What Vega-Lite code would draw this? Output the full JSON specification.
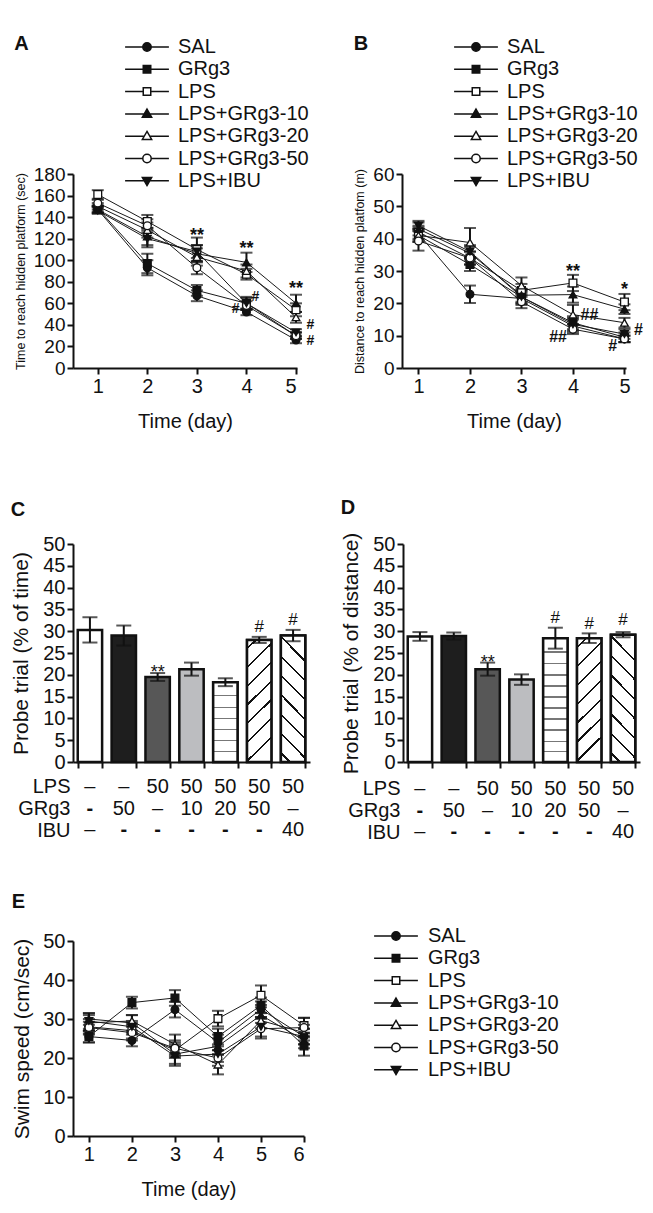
{
"$schema": "https://vega.github.io/schema/vega-lite/v6.json",
"background": "white",
"padding": {"left": 10, "top": 34, "right": 5, "bottom": 5},
"config": {
  "font": "Liberation Sans",
  "view": {"stroke": null},
  "axis": {"domainColor": "#111", "domainWidth": 2, "tickColor": "#111", "tickWidth": 2, "tickSize": 6, "labelColor": "#111", "labelFontSize": 20, "labelPadding": 2, "titleColor": "#111", "titleFontWeight": "normal", "titleFontSize": 20, "grid": false},
  "title": {"fontSize": 20, "fontWeight": "bold", "anchor": "start", "color": "#111", "frame": "bounds"},
  "legend": {"labelColor": "#111"}
},
"datasets": {
  "a": [
    {"day":1,"series":"SAL","v":147,"e":3},{"day":2,"series":"SAL","v":93,"e":7},{"day":3,"series":"SAL","v":67,"e":5},{"day":4,"series":"SAL","v":52,"e":3},{"day":5,"series":"SAL","v":26,"e":3},
    {"day":1,"series":"GRg3","v":148,"e":3},{"day":2,"series":"GRg3","v":97,"e":9},{"day":3,"series":"GRg3","v":72,"e":5},{"day":4,"series":"GRg3","v":60,"e":5},{"day":5,"series":"GRg3","v":30,"e":3},
    {"day":1,"series":"LPS","v":161,"e":4},{"day":2,"series":"LPS","v":136,"e":6},{"day":3,"series":"LPS","v":110,"e":11},{"day":4,"series":"LPS","v":87,"e":5},{"day":5,"series":"LPS","v":54,"e":6},
    {"day":1,"series":"LPS+GRg3-10","v":147,"e":3},{"day":2,"series":"LPS+GRg3-10","v":122,"e":8},{"day":3,"series":"LPS+GRg3-10","v":106,"e":8},{"day":4,"series":"LPS+GRg3-10","v":98,"e":9},{"day":5,"series":"LPS+GRg3-10","v":60,"e":8},
    {"day":1,"series":"LPS+GRg3-20","v":150,"e":3},{"day":2,"series":"LPS+GRg3-20","v":128,"e":7},{"day":3,"series":"LPS+GRg3-20","v":103,"e":8},{"day":4,"series":"LPS+GRg3-20","v":90,"e":6},{"day":5,"series":"LPS+GRg3-20","v":47,"e":5},
    {"day":1,"series":"LPS+GRg3-50","v":153,"e":3},{"day":2,"series":"LPS+GRg3-50","v":132,"e":6},{"day":3,"series":"LPS+GRg3-50","v":93,"e":6},{"day":4,"series":"LPS+GRg3-50","v":58,"e":4},{"day":5,"series":"LPS+GRg3-50","v":30,"e":3},
    {"day":1,"series":"LPS+IBU","v":146,"e":3},{"day":2,"series":"LPS+IBU","v":120,"e":8},{"day":3,"series":"LPS+IBU","v":108,"e":6},{"day":4,"series":"LPS+IBU","v":60,"e":6},{"day":5,"series":"LPS+IBU","v":33,"e":3}
  ],
  "b": [
    {"day":1,"series":"SAL","v":41.5,"e":2},{"day":2,"series":"SAL","v":22.8,"e":2.7},{"day":3,"series":"SAL","v":21.5,"e":2},{"day":4,"series":"SAL","v":13,"e":2},{"day":5,"series":"SAL","v":9,"e":1},
    {"day":1,"series":"GRg3","v":41,"e":2},{"day":2,"series":"GRg3","v":32,"e":2},{"day":3,"series":"GRg3","v":22,"e":2},{"day":4,"series":"GRg3","v":14,"e":2},{"day":5,"series":"GRg3","v":9.5,"e":1.5},
    {"day":1,"series":"LPS","v":42,"e":2},{"day":2,"series":"LPS","v":34,"e":2},{"day":3,"series":"LPS","v":24,"e":2},{"day":4,"series":"LPS","v":26.3,"e":2.5},{"day":5,"series":"LPS","v":20.4,"e":2.5},
    {"day":1,"series":"LPS+GRg3-10","v":43,"e":2},{"day":2,"series":"LPS+GRg3-10","v":35.5,"e":2},{"day":3,"series":"LPS+GRg3-10","v":22.5,"e":2},{"day":4,"series":"LPS+GRg3-10","v":22.7,"e":2.5},{"day":5,"series":"LPS+GRg3-10","v":18.2,"e":1.5},
    {"day":1,"series":"LPS+GRg3-20","v":41,"e":2},{"day":2,"series":"LPS+GRg3-20","v":38.8,"e":4.5},{"day":3,"series":"LPS+GRg3-20","v":25.5,"e":2.5},{"day":4,"series":"LPS+GRg3-20","v":16.5,"e":3},{"day":5,"series":"LPS+GRg3-20","v":14,"e":1.5},
    {"day":1,"series":"LPS+GRg3-50","v":39.3,"e":3},{"day":2,"series":"LPS+GRg3-50","v":34,"e":2},{"day":3,"series":"LPS+GRg3-50","v":20.5,"e":2},{"day":4,"series":"LPS+GRg3-50","v":12,"e":1.5},{"day":5,"series":"LPS+GRg3-50","v":9,"e":1},
    {"day":1,"series":"LPS+IBU","v":44,"e":1.5},{"day":2,"series":"LPS+IBU","v":36,"e":2},{"day":3,"series":"LPS+IBU","v":22,"e":2},{"day":4,"series":"LPS+IBU","v":13.5,"e":2},{"day":5,"series":"LPS+IBU","v":10.5,"e":1.5}
  ],
  "e": [
    {"day":1,"series":"SAL","v":25.5,"e":1.5},{"day":2,"series":"SAL","v":24.5,"e":1.5},{"day":3,"series":"SAL","v":32.4,"e":2},{"day":4,"series":"SAL","v":24,"e":2},{"day":5,"series":"SAL","v":32.5,"e":2},{"day":6,"series":"SAL","v":25.5,"e":2},
    {"day":1,"series":"GRg3","v":25.5,"e":1.5},{"day":2,"series":"GRg3","v":34.2,"e":1.5},{"day":3,"series":"GRg3","v":35.4,"e":2},{"day":4,"series":"GRg3","v":25.5,"e":2},{"day":5,"series":"GRg3","v":33.5,"e":2},{"day":6,"series":"GRg3","v":23.1,"e":2.5},
    {"day":1,"series":"LPS","v":28,"e":2},{"day":2,"series":"LPS","v":27,"e":2},{"day":3,"series":"LPS","v":22,"e":2},{"day":4,"series":"LPS","v":30.1,"e":2},{"day":5,"series":"LPS","v":36.1,"e":2.5},{"day":6,"series":"LPS","v":28.3,"e":2},
    {"day":1,"series":"LPS+GRg3-10","v":30,"e":1.5},{"day":2,"series":"LPS+GRg3-10","v":29,"e":2},{"day":3,"series":"LPS+GRg3-10","v":21,"e":2.5},{"day":4,"series":"LPS+GRg3-10","v":23,"e":2},{"day":5,"series":"LPS+GRg3-10","v":31,"e":2},{"day":6,"series":"LPS+GRg3-10","v":24.5,"e":2},
    {"day":1,"series":"LPS+GRg3-20","v":29,"e":2},{"day":2,"series":"LPS+GRg3-20","v":29.5,"e":1.5},{"day":3,"series":"LPS+GRg3-20","v":23.5,"e":2.5},{"day":4,"series":"LPS+GRg3-20","v":18.3,"e":2.5},{"day":5,"series":"LPS+GRg3-20","v":29.6,"e":2},{"day":6,"series":"LPS+GRg3-20","v":26.5,"e":2},
    {"day":1,"series":"LPS+GRg3-50","v":27.8,"e":1.5},{"day":2,"series":"LPS+GRg3-50","v":26.5,"e":2},{"day":3,"series":"LPS+GRg3-50","v":22.5,"e":2},{"day":4,"series":"LPS+GRg3-50","v":20,"e":2},{"day":5,"series":"LPS+GRg3-50","v":27.5,"e":2.5},{"day":6,"series":"LPS+GRg3-50","v":27.8,"e":2.5},
    {"day":1,"series":"LPS+IBU","v":29.5,"e":2},{"day":2,"series":"LPS+IBU","v":28,"e":1.5},{"day":3,"series":"LPS+IBU","v":20.5,"e":2.5},{"day":4,"series":"LPS+IBU","v":21,"e":2},{"day":5,"series":"LPS+IBU","v":28,"e":2.5},{"day":6,"series":"LPS+IBU","v":25.5,"e":2}
  ],
  "annA": [
    {"day":3,"v":127,"t":"**"},{"day":4,"v":115,"t":"**"},{"day":5,"v":78,"t":"**"},
    {"day":4.18,"v":65.8,"t":"#"},{"day":3.78,"v":54.4,"t":"#"},{"day":5.29,"v":40,"t":"#"},{"day":5.29,"v":25,"t":"#"}
  ],
  "annB": [
    {"day":4,"v":31.2,"t":"**"},{"day":5,"v":25.6,"t":"*"},
    {"day":4.32,"v":16.3,"t":"##"},{"day":3.71,"v":9.6,"t":"##"},{"day":5.27,"v":11.6,"t":"#"},{"day":4.77,"v":6.8,"t":"#"}
  ],
  "c": [
    {"g":"g1","v":30.3,"e":2.9},{"g":"g2","v":29,"e":2.3},{"g":"g3","v":19.5,"e":0.9},{"g":"g4","v":21.3,"e":1.5},{"g":"g5","v":18.3,"e":0.9},{"g":"g6","v":28,"e":0.7},{"g":"g7","v":29,"e":1.3}
  ],
  "d": [
    {"g":"g1","v":28.8,"e":1.0},{"g":"g2","v":28.9,"e":0.8},{"g":"g3","v":21.3,"e":1.5},{"g":"g4","v":18.9,"e":1.2},{"g":"g5","v":28.4,"e":2.4},{"g":"g6","v":28.4,"e":1.1},{"g":"g7","v":29.2,"e":0.6}
  ],
  "annC": [{"g":"g3","v":21.6,"t":"**"},{"g":"g6","v":30.9,"t":"#"},{"g":"g7","v":32.6,"t":"#"}],
  "annD": [{"g":"g3","v":23.9,"t":"**"},{"g":"g5","v":33,"t":"#"},{"g":"g6","v":31.7,"t":"#"},{"g":"g7","v":32.5,"t":"#"}],
  "tab": [
    {"g":"g1","row":"LPS","t":"–"},{"g":"g1","row":"GRg3","t":"-"},{"g":"g1","row":"IBU","t":"–"},
    {"g":"g2","row":"LPS","t":"–"},{"g":"g2","row":"GRg3","t":"50"},{"g":"g2","row":"IBU","t":"-"},
    {"g":"g3","row":"LPS","t":"50"},{"g":"g3","row":"GRg3","t":"–"},{"g":"g3","row":"IBU","t":"-"},
    {"g":"g4","row":"LPS","t":"50"},{"g":"g4","row":"GRg3","t":"10"},{"g":"g4","row":"IBU","t":"-"},
    {"g":"g5","row":"LPS","t":"50"},{"g":"g5","row":"GRg3","t":"20"},{"g":"g5","row":"IBU","t":"-"},
    {"g":"g6","row":"LPS","t":"50"},{"g":"g6","row":"GRg3","t":"50"},{"g":"g6","row":"IBU","t":"-"},
    {"g":"g7","row":"LPS","t":"50"},{"g":"g7","row":"GRg3","t":"–"},{"g":"g7","row":"IBU","t":"40"}
  ]
},
"resolve": {"scale": {"fill": "independent", "shape": "independent"}, "legend": {"fill": "independent", "shape": "independent"}},
"spacing": 67,
"vconcat": [
  {
    "spacing": 38,
    "resolve": {"scale": {"fill": "independent", "shape": "independent"}, "legend": {"fill": "independent", "shape": "independent"}},
    "hconcat": [
      {
        "title": {"text": "A", "offset": -17},
        "width": 224, "height": 194,
        "data": {"name": "a"},
        "resolve": {"scale": {"fill": "independent", "shape": "independent"}, "legend": {"fill": "independent", "shape": "independent"}},
        "encoding": {
          "x": {"field": "day", "type": "quantitative", "scale": {"domain": [0.5, 5.02], "nice": false, "zero": false}, "axis": {"values": [1,2,3,4,5], "title": "Time (day)", "titlePadding": 15}},
          "y": {"field": "v", "type": "quantitative", "scale": {"domain": [0, 180], "nice": false}, "axis": {"values": [0,20,40,60,80,100,120,140,160,180], "title": "Time to reach hidden platform (sec)", "titleFontSize": 12.5, "labelFontSize": 19, "titlePadding": 6}}
        },
        "layer": [
          {"mark": {"type": "line", "color": "#1a1a1a", "strokeWidth": 1}, "encoding": {"detail": {"field": "series"}}},
          {"mark": {"type": "errorbar", "color": "#111", "ticks": {"size": 12, "thickness": 2}, "rule": {"strokeWidth": 2}}, "encoding": {"yError": {"field": "e"}}},
          {"mark": {"type": "point", "size": 60, "stroke": "#111", "strokeWidth": 1.3, "fillOpacity": 1, "opacity": 1},
           "encoding": {
             "shape": {"field": "series", "type": "nominal", "scale": {"domain": ["SAL","GRg3","LPS","LPS+GRg3-10","LPS+GRg3-20","LPS+GRg3-50","LPS+IBU"], "range": ["circle","square","square","triangle-up","triangle-up","circle","triangle-down"]}, "legend": null},
             "fill": {"field": "series", "type": "nominal", "scale": {"domain": ["SAL","GRg3","LPS","LPS+GRg3-10","LPS+GRg3-20","LPS+GRg3-50","LPS+IBU"], "range": ["#111","#111","white","#111","white","white","#111"]}, "legend": null}
           }},
          {"transform": [{"filter": "datum.day < 0"}],
           "mark": {"type": "point", "stroke": "#111", "strokeWidth": 1.8, "fillOpacity": 1},
           "encoding": {
             "shape": {"field": "series", "type": "nominal", "scale": {"domain": ["SAL","GRg3","LPS","LPS+GRg3-10","LPS+GRg3-20","LPS+GRg3-50","LPS+IBU"], "range": ["M-7.3,0H-1.4M1.4,0H7.3M1.4,0A1.4,1.4,0,1,1,-1.4,0A1.4,1.4,0,1,1,1.4,0Z","M-7.3,0H-1.25M1.25,0H7.3M-1.25,-1.25H1.25V1.25H-1.25Z","M-7.3,0H-1.25M1.25,0H7.3M-1.25,-1.25H1.25V1.25H-1.25Z","M-7.3,0H-0.9M0.9,0H7.3M0,-1.6L1.55,1.1H-1.55Z","M-7.3,0H-0.9M0.9,0H7.3M0,-1.6L1.55,1.1H-1.55Z","M-7.3,0H-1.4M1.4,0H7.3M1.4,0A1.4,1.4,0,1,1,-1.4,0A1.4,1.4,0,1,1,1.4,0Z","M-7.3,0H-0.9M0.9,0H7.3M0,1.6L1.55,-1.1H-1.55Z"]},
               "legend": {"title": null, "orient": "none", "legendX": 64, "legendY": -137, "symbolSize": 36, "labelFontSize": 20, "labelOffset": 21, "rowPadding": 2.3, "encode": {"symbols": {"stroke": {"value": "#111"}, "strokeWidth": {"value": 1.8}}}}},
             "fill": {"field": "series", "type": "nominal", "scale": {"domain": ["SAL","GRg3","LPS","LPS+GRg3-10","LPS+GRg3-20","LPS+GRg3-50","LPS+IBU"], "range": ["#111","#111","white","#111","white","white","#111"]},
               "legend": {"title": null, "orient": "none", "legendX": 64, "legendY": -137, "symbolSize": 36, "labelFontSize": 20, "labelOffset": 21, "rowPadding": 2.3, "encode": {"symbols": {"stroke": {"value": "#111"}, "strokeWidth": {"value": 1.8}}}}}
           }},
          {"data": {"name": "annA"}, "transform": [{"filter": "datum.t==='**'"}], "mark": {"type": "text", "fontSize": 18, "fontWeight": "bold", "dy": 5, "color": "#111"}, "encoding": {"text": {"field": "t"}}},
          {"data": {"name": "annA"}, "transform": [{"filter": "datum.t!=='**'"}], "mark": {"type": "text", "fontSize": 14, "fontWeight": "bold", "color": "#111"}, "encoding": {"text": {"field": "t"}}}
        ]
      },
      {
        "title": {"text": "B", "offset": -17},
        "width": 224, "height": 194,
        "data": {"name": "b"},
        "resolve": {"scale": {"fill": "independent", "shape": "independent"}, "legend": {"fill": "independent", "shape": "independent"}},
        "encoding": {
          "x": {"field": "day", "type": "quantitative", "scale": {"domain": [0.68, 5.03], "nice": false, "zero": false}, "axis": {"values": [1,2,3,4,5], "title": "Time (day)", "titlePadding": 15}},
          "y": {"field": "v", "type": "quantitative", "scale": {"domain": [0, 60], "nice": false}, "axis": {"values": [0,10,20,30,40,50,60], "title": "Distance to reach hidden platfom (m)", "titleFontSize": 12.5, "labelFontSize": 19, "titlePadding": 6}}
        },
        "layer": [
          {"mark": {"type": "line", "color": "#1a1a1a", "strokeWidth": 1}, "encoding": {"detail": {"field": "series"}}},
          {"mark": {"type": "errorbar", "color": "#111", "ticks": {"size": 12, "thickness": 2}, "rule": {"strokeWidth": 2}}, "encoding": {"yError": {"field": "e"}}},
          {"mark": {"type": "point", "size": 60, "stroke": "#111", "strokeWidth": 1.3, "fillOpacity": 1, "opacity": 1},
           "encoding": {
             "shape": {"field": "series", "type": "nominal", "scale": {"domain": ["SAL","GRg3","LPS","LPS+GRg3-10","LPS+GRg3-20","LPS+GRg3-50","LPS+IBU"], "range": ["circle","square","square","triangle-up","triangle-up","circle","triangle-down"]}, "legend": null},
             "fill": {"field": "series", "type": "nominal", "scale": {"domain": ["SAL","GRg3","LPS","LPS+GRg3-10","LPS+GRg3-20","LPS+GRg3-50","LPS+IBU"], "range": ["#111","#111","white","#111","white","white","#111"]}, "legend": null}
           }},
          {"transform": [{"filter": "datum.day < 0"}],
           "mark": {"type": "point", "stroke": "#111", "strokeWidth": 1.8, "fillOpacity": 1},
           "encoding": {
             "shape": {"field": "series", "type": "nominal", "scale": {"domain": ["SAL","GRg3","LPS","LPS+GRg3-10","LPS+GRg3-20","LPS+GRg3-50","LPS+IBU"], "range": ["M-7.3,0H-1.4M1.4,0H7.3M1.4,0A1.4,1.4,0,1,1,-1.4,0A1.4,1.4,0,1,1,1.4,0Z","M-7.3,0H-1.25M1.25,0H7.3M-1.25,-1.25H1.25V1.25H-1.25Z","M-7.3,0H-1.25M1.25,0H7.3M-1.25,-1.25H1.25V1.25H-1.25Z","M-7.3,0H-0.9M0.9,0H7.3M0,-1.6L1.55,1.1H-1.55Z","M-7.3,0H-0.9M0.9,0H7.3M0,-1.6L1.55,1.1H-1.55Z","M-7.3,0H-1.4M1.4,0H7.3M1.4,0A1.4,1.4,0,1,1,-1.4,0A1.4,1.4,0,1,1,1.4,0Z","M-7.3,0H-0.9M0.9,0H7.3M0,1.6L1.55,-1.1H-1.55Z"]},
               "legend": {"title": null, "orient": "none", "legendX": 64, "legendY": -137, "symbolSize": 36, "labelFontSize": 20, "labelOffset": 21, "rowPadding": 2.3, "encode": {"symbols": {"stroke": {"value": "#111"}, "strokeWidth": {"value": 1.8}}}}},
             "fill": {"field": "series", "type": "nominal", "scale": {"domain": ["SAL","GRg3","LPS","LPS+GRg3-10","LPS+GRg3-20","LPS+GRg3-50","LPS+IBU"], "range": ["#111","#111","white","#111","white","white","#111"]},
               "legend": {"title": null, "orient": "none", "legendX": 64, "legendY": -137, "symbolSize": 36, "labelFontSize": 20, "labelOffset": 21, "rowPadding": 2.3, "encode": {"symbols": {"stroke": {"value": "#111"}, "strokeWidth": {"value": 1.8}}}}}
           }},
          {"data": {"name": "annB"}, "transform": [{"filter": "datum.t==='**'||datum.t==='*'"}], "mark": {"type": "text", "fontSize": 18, "fontWeight": "bold", "dy": 5, "color": "#111"}, "encoding": {"text": {"field": "t"}}},
          {"data": {"name": "annB"}, "transform": [{"filter": "datum.t!=='**'&&datum.t!=='*'"}], "mark": {"type": "text", "fontSize": 16, "fontWeight": "bold", "color": "#111"}, "encoding": {"text": {"field": "t"}}}
        ]
      }
    ]
  },
  {
    "spacing": 49,
    "resolve": {"scale": {"fill": "independent", "shape": "independent"}, "legend": {"fill": "independent", "shape": "independent"}},
    "vconcat": [
      {
        "spacing": 30,
        "resolve": {"scale": {"fill": "independent", "shape": "independent"}, "legend": {"fill": "independent", "shape": "independent"}},
        "hconcat": [
          {
            "spacing": 4,
            "vconcat": [
              {
                "title": {"text": "C", "offset": 14},
                "width": 237, "height": 218,
                "data": {"name": "c"},
                "encoding": {
                  "x": {"field": "g", "type": "nominal", "sort": null, "scale": {"domain": ["g1","g2","g3","g4","g5","g6","g7"], "paddingInner": 0.28, "paddingOuter": 0.14}, "axis": {"labels": false, "title": null, "tickBand": "extent"}},
                  "y": {"field": "v", "type": "quantitative", "scale": {"domain": [0, 50], "nice": false}, "axis": {"values": [0,5,10,15,20,25,30,35,40,45,50], "title": "Probe trial (% of time)", "titleFontSize": 21, "titlePadding": 11}}
                },
                "layer": [
                  {"mark": {"type": "bar", "stroke": "#111", "strokeWidth": 2.5}, "encoding": {"fill": {"field": "g", "type": "nominal", "scale": {"domain": ["g1","g2","g3","g4","g5","g6","g7"], "range": ["white","#1e1e1e","#575757","#bcbdc0","white","white","white"]}, "legend": null}}},
                  {"transform": [{"filter": "datum.g==='g5'"}], "mark": {"type": "bar", "stroke": "#111", "strokeWidth": 2.5, "fill": {"gradient": "linear", "x1": 0, "y1": 0, "x2": 0, "y2": 1, "stops": [
                    {"offset":0,"color":"white"},{"offset":0.160,"color":"white"},{"offset":0.160,"color":"#777"},{"offset":0.178,"color":"#777"},{"offset":0.178,"color":"white"},
                    {"offset":0.306,"color":"white"},{"offset":0.306,"color":"#777"},{"offset":0.324,"color":"#777"},{"offset":0.324,"color":"white"},
                    {"offset":0.443,"color":"white"},{"offset":0.443,"color":"#777"},{"offset":0.461,"color":"#777"},{"offset":0.461,"color":"white"},
                    {"offset":0.581,"color":"white"},{"offset":0.581,"color":"#777"},{"offset":0.599,"color":"#777"},{"offset":0.599,"color":"white"},
                    {"offset":0.724,"color":"white"},{"offset":0.724,"color":"#777"},{"offset":0.742,"color":"#777"},{"offset":0.742,"color":"white"},
                    {"offset":0.862,"color":"white"},{"offset":0.862,"color":"#777"},{"offset":0.880,"color":"#777"},{"offset":0.880,"color":"white"},
                    {"offset":1,"color":"white"}]}}},
                  {"transform": [{"filter": "datum.g==='g6'"}], "mark": {"type": "bar", "stroke": "#111", "strokeWidth": 2.5, "fill": {"gradient": "linear", "x1": 0, "y1": 0, "x2": 0.196, "y2": 1, "stops": [
                    {"offset":0,"color":"white"},{"offset":0.0615,"color":"white"},{"offset":0.0615,"color":"#111"},{"offset":0.0785,"color":"#111"},{"offset":0.0785,"color":"white"},
                    {"offset":0.209,"color":"white"},{"offset":0.209,"color":"#111"},{"offset":0.226,"color":"#111"},{"offset":0.226,"color":"white"},
                    {"offset":0.3565,"color":"white"},{"offset":0.3565,"color":"#111"},{"offset":0.3735,"color":"#111"},{"offset":0.3735,"color":"white"},
                    {"offset":0.504,"color":"white"},{"offset":0.504,"color":"#111"},{"offset":0.521,"color":"#111"},{"offset":0.521,"color":"white"},
                    {"offset":0.6515,"color":"white"},{"offset":0.6515,"color":"#111"},{"offset":0.6685,"color":"#111"},{"offset":0.6685,"color":"white"},
                    {"offset":0.799,"color":"white"},{"offset":0.799,"color":"#111"},{"offset":0.816,"color":"#111"},{"offset":0.816,"color":"white"},
                    {"offset":0.9465,"color":"white"},{"offset":0.9465,"color":"#111"},{"offset":0.9635,"color":"#111"},{"offset":0.9635,"color":"white"},
                    {"offset":1,"color":"white"}]}}},
                  {"transform": [{"filter": "datum.g==='g7'"}], "mark": {"type": "bar", "stroke": "#111", "strokeWidth": 2.5, "fill": {"gradient": "linear", "x1": 0, "y1": 1, "x2": 0.196, "y2": 0, "stops": [
                    {"offset":0,"color":"white"},{"offset":0.0615,"color":"white"},{"offset":0.0615,"color":"#111"},{"offset":0.0785,"color":"#111"},{"offset":0.0785,"color":"white"},
                    {"offset":0.209,"color":"white"},{"offset":0.209,"color":"#111"},{"offset":0.226,"color":"#111"},{"offset":0.226,"color":"white"},
                    {"offset":0.3565,"color":"white"},{"offset":0.3565,"color":"#111"},{"offset":0.3735,"color":"#111"},{"offset":0.3735,"color":"white"},
                    {"offset":0.504,"color":"white"},{"offset":0.504,"color":"#111"},{"offset":0.521,"color":"#111"},{"offset":0.521,"color":"white"},
                    {"offset":0.6515,"color":"white"},{"offset":0.6515,"color":"#111"},{"offset":0.6685,"color":"#111"},{"offset":0.6685,"color":"white"},
                    {"offset":0.799,"color":"white"},{"offset":0.799,"color":"#111"},{"offset":0.816,"color":"#111"},{"offset":0.816,"color":"white"},
                    {"offset":0.9465,"color":"white"},{"offset":0.9465,"color":"#111"},{"offset":0.9635,"color":"#111"},{"offset":0.9635,"color":"white"},
                    {"offset":1,"color":"white"}]}}},
                  {"mark": {"type": "errorbar", "color": "#111", "ticks": {"size": 15, "thickness": 2}, "rule": {"strokeWidth": 2}}, "encoding": {"yError": {"field": "e"}}},
                  {"data": {"name": "annC"}, "transform": [{"filter": "datum.t==='**'"}], "mark": {"type": "text", "fontSize": 18, "dy": 5, "color": "#111"}, "encoding": {"text": {"field": "t"}}},
                  {"data": {"name": "annC"}, "transform": [{"filter": "datum.t!=='**'"}], "mark": {"type": "text", "fontSize": 17, "color": "#111"}, "encoding": {"text": {"field": "t"}}}
                ]
              },
              {
                "width": 237, "height": 65,
                "data": {"name": "tab"},
                "encoding": {
                  "x": {"field": "g", "type": "nominal", "sort": null, "scale": {"domain": ["g1","g2","g3","g4","g5","g6","g7"], "paddingInner": 0.28, "paddingOuter": 0.14}, "axis": null},
                  "y": {"field": "row", "type": "nominal", "sort": null, "scale": {"domain": ["LPS","GRg3","IBU"]}, "axis": {"domain": false, "ticks": false, "tickSize": 0, "title": null, "labelFontSize": 20, "labelPadding": 3}},
                  "text": {"field": "t"}
                },
                "layer": [
                  {"transform": [{"filter": "datum.t!=='-'"}], "mark": {"type": "text", "fontSize": 20, "color": "#111"}},
                  {"transform": [{"filter": "datum.t==='-'"}], "mark": {"type": "text", "fontSize": 20, "fontWeight": "bold", "color": "#111"}}
                ]
              }
            ]
          },
          {
            "spacing": 4,
            "vconcat": [
              {
                "title": {"text": "D", "offset": 14},
                "width": 237, "height": 218,
                "data": {"name": "d"},
                "encoding": {
                  "x": {"field": "g", "type": "nominal", "sort": null, "scale": {"domain": ["g1","g2","g3","g4","g5","g6","g7"], "paddingInner": 0.28, "paddingOuter": 0.14}, "axis": {"labels": false, "title": null, "tickBand": "extent"}},
                  "y": {"field": "v", "type": "quantitative", "scale": {"domain": [0, 50], "nice": false}, "axis": {"values": [0,5,10,15,20,25,30,35,40,45,50], "title": "Probe trial (% of distance)", "titleFontSize": 21, "titlePadding": 11}}
                },
                "layer": [
                  {"mark": {"type": "bar", "stroke": "#111", "strokeWidth": 2.5}, "encoding": {"fill": {"field": "g", "type": "nominal", "scale": {"domain": ["g1","g2","g3","g4","g5","g6","g7"], "range": ["white","#1e1e1e","#575757","#bcbdc0","white","white","white"]}, "legend": null}}},
                  {"transform": [{"filter": "datum.g==='g5'"}], "mark": {"type": "bar", "stroke": "#111", "strokeWidth": 2.5, "fill": {"gradient": "linear", "x1": 0, "y1": 0, "x2": 0, "y2": 1, "stops": [
                    {"offset":0,"color":"white"},
                    {"offset":0.105,"color":"white"},{"offset":0.105,"color":"#777"},{"offset":0.117,"color":"#777"},{"offset":0.117,"color":"white"},
                    {"offset":0.200,"color":"white"},{"offset":0.200,"color":"#777"},{"offset":0.212,"color":"#777"},{"offset":0.212,"color":"white"},
                    {"offset":0.291,"color":"white"},{"offset":0.291,"color":"#777"},{"offset":0.303,"color":"#777"},{"offset":0.303,"color":"white"},
                    {"offset":0.380,"color":"white"},{"offset":0.380,"color":"#777"},{"offset":0.392,"color":"#777"},{"offset":0.392,"color":"white"},
                    {"offset":0.469,"color":"white"},{"offset":0.469,"color":"#777"},{"offset":0.481,"color":"#777"},{"offset":0.481,"color":"white"},
                    {"offset":0.559,"color":"white"},{"offset":0.559,"color":"#777"},{"offset":0.571,"color":"#777"},{"offset":0.571,"color":"white"},
                    {"offset":0.648,"color":"white"},{"offset":0.648,"color":"#777"},{"offset":0.660,"color":"#777"},{"offset":0.660,"color":"white"},
                    {"offset":0.736,"color":"white"},{"offset":0.736,"color":"#777"},{"offset":0.748,"color":"#777"},{"offset":0.748,"color":"white"},
                    {"offset":0.827,"color":"white"},{"offset":0.827,"color":"#777"},{"offset":0.839,"color":"#777"},{"offset":0.839,"color":"white"},
                    {"offset":0.911,"color":"white"},{"offset":0.911,"color":"#777"},{"offset":0.923,"color":"#777"},{"offset":0.923,"color":"white"},
                    {"offset":1,"color":"white"}]}}},
                  {"transform": [{"filter": "datum.g==='g6'"}], "mark": {"type": "bar", "stroke": "#111", "strokeWidth": 2.5, "fill": {"gradient": "linear", "x1": 0, "y1": 0, "x2": 0.196, "y2": 1, "stops": [
                    {"offset":0,"color":"white"},{"offset":0.0615,"color":"white"},{"offset":0.0615,"color":"#111"},{"offset":0.0785,"color":"#111"},{"offset":0.0785,"color":"white"},
                    {"offset":0.209,"color":"white"},{"offset":0.209,"color":"#111"},{"offset":0.226,"color":"#111"},{"offset":0.226,"color":"white"},
                    {"offset":0.3565,"color":"white"},{"offset":0.3565,"color":"#111"},{"offset":0.3735,"color":"#111"},{"offset":0.3735,"color":"white"},
                    {"offset":0.504,"color":"white"},{"offset":0.504,"color":"#111"},{"offset":0.521,"color":"#111"},{"offset":0.521,"color":"white"},
                    {"offset":0.6515,"color":"white"},{"offset":0.6515,"color":"#111"},{"offset":0.6685,"color":"#111"},{"offset":0.6685,"color":"white"},
                    {"offset":0.799,"color":"white"},{"offset":0.799,"color":"#111"},{"offset":0.816,"color":"#111"},{"offset":0.816,"color":"white"},
                    {"offset":0.9465,"color":"white"},{"offset":0.9465,"color":"#111"},{"offset":0.9635,"color":"#111"},{"offset":0.9635,"color":"white"},
                    {"offset":1,"color":"white"}]}}},
                  {"transform": [{"filter": "datum.g==='g7'"}], "mark": {"type": "bar", "stroke": "#111", "strokeWidth": 2.5, "fill": {"gradient": "linear", "x1": 0, "y1": 1, "x2": 0.196, "y2": 0, "stops": [
                    {"offset":0,"color":"white"},{"offset":0.0615,"color":"white"},{"offset":0.0615,"color":"#111"},{"offset":0.0785,"color":"#111"},{"offset":0.0785,"color":"white"},
                    {"offset":0.209,"color":"white"},{"offset":0.209,"color":"#111"},{"offset":0.226,"color":"#111"},{"offset":0.226,"color":"white"},
                    {"offset":0.3565,"color":"white"},{"offset":0.3565,"color":"#111"},{"offset":0.3735,"color":"#111"},{"offset":0.3735,"color":"white"},
                    {"offset":0.504,"color":"white"},{"offset":0.504,"color":"#111"},{"offset":0.521,"color":"#111"},{"offset":0.521,"color":"white"},
                    {"offset":0.6515,"color":"white"},{"offset":0.6515,"color":"#111"},{"offset":0.6685,"color":"#111"},{"offset":0.6685,"color":"white"},
                    {"offset":0.799,"color":"white"},{"offset":0.799,"color":"#111"},{"offset":0.816,"color":"#111"},{"offset":0.816,"color":"white"},
                    {"offset":0.9465,"color":"white"},{"offset":0.9465,"color":"#111"},{"offset":0.9635,"color":"#111"},{"offset":0.9635,"color":"white"},
                    {"offset":1,"color":"white"}]}}},
                  {"mark": {"type": "errorbar", "color": "#111", "ticks": {"size": 15, "thickness": 2}, "rule": {"strokeWidth": 2}}, "encoding": {"yError": {"field": "e"}}},
                  {"data": {"name": "annD"}, "transform": [{"filter": "datum.t==='**'"}], "mark": {"type": "text", "fontSize": 18, "dy": 5, "color": "#111"}, "encoding": {"text": {"field": "t"}}},
                  {"data": {"name": "annD"}, "transform": [{"filter": "datum.t!=='**'"}], "mark": {"type": "text", "fontSize": 17, "color": "#111"}, "encoding": {"text": {"field": "t"}}}
                ]
              },
              {
                "width": 237, "height": 65,
                "data": {"name": "tab"},
                "encoding": {
                  "x": {"field": "g", "type": "nominal", "sort": null, "scale": {"domain": ["g1","g2","g3","g4","g5","g6","g7"], "paddingInner": 0.28, "paddingOuter": 0.14}, "axis": null},
                  "y": {"field": "row", "type": "nominal", "sort": null, "scale": {"domain": ["LPS","GRg3","IBU"]}, "axis": {"domain": false, "ticks": false, "tickSize": 0, "title": null, "labelFontSize": 20, "labelPadding": 3}},
                  "text": {"field": "t"}
                },
                "layer": [
                  {"transform": [{"filter": "datum.t!=='-'"}], "mark": {"type": "text", "fontSize": 20, "color": "#111"}},
                  {"transform": [{"filter": "datum.t==='-'"}], "mark": {"type": "text", "fontSize": 20, "fontWeight": "bold", "color": "#111"}}
                ]
              }
            ]
          }
        ]
      },
      {
        "title": {"text": "E", "offset": 14},
        "width": 231, "height": 195,
        "data": {"name": "e"},
        "resolve": {"scale": {"fill": "independent", "shape": "independent"}, "legend": {"fill": "independent", "shape": "independent"}},
        "encoding": {
          "x": {"field": "day", "type": "quantitative", "scale": {"domain": [0.63, 6.0], "nice": false, "zero": false}, "axis": {"values": [1,2,3,4,5,6], "title": "Time (day)", "titlePadding": 15}},
          "y": {"field": "v", "type": "quantitative", "scale": {"domain": [0, 50], "nice": false}, "axis": {"values": [0,10,20,30,40,50], "title": "Swim speed (cm/sec)", "titleFontSize": 21, "titlePadding": 10}}
        },
        "layer": [
          {"mark": {"type": "line", "color": "#1a1a1a", "strokeWidth": 1}, "encoding": {"detail": {"field": "series"}}},
          {"mark": {"type": "errorbar", "color": "#111", "ticks": {"size": 12, "thickness": 2}, "rule": {"strokeWidth": 2}}, "encoding": {"yError": {"field": "e"}}},
          {"mark": {"type": "point", "size": 60, "stroke": "#111", "strokeWidth": 1.3, "fillOpacity": 1, "opacity": 1},
           "encoding": {
             "shape": {"field": "series", "type": "nominal", "scale": {"domain": ["SAL","GRg3","LPS","LPS+GRg3-10","LPS+GRg3-20","LPS+GRg3-50","LPS+IBU"], "range": ["circle","square","square","triangle-up","triangle-up","circle","triangle-down"]}, "legend": null},
             "fill": {"field": "series", "type": "nominal", "scale": {"domain": ["SAL","GRg3","LPS","LPS+GRg3-10","LPS+GRg3-20","LPS+GRg3-50","LPS+IBU"], "range": ["#111","#111","white","#111","white","white","#111"]}, "legend": null}
           }},
          {"transform": [{"filter": "datum.day < 0"}],
           "mark": {"type": "point", "stroke": "#111", "strokeWidth": 1.8, "fillOpacity": 1},
           "encoding": {
             "shape": {"field": "series", "type": "nominal", "scale": {"domain": ["SAL","GRg3","LPS","LPS+GRg3-10","LPS+GRg3-20","LPS+GRg3-50","LPS+IBU"], "range": ["M-7.3,0H-1.4M1.4,0H7.3M1.4,0A1.4,1.4,0,1,1,-1.4,0A1.4,1.4,0,1,1,1.4,0Z","M-7.3,0H-1.25M1.25,0H7.3M-1.25,-1.25H1.25V1.25H-1.25Z","M-7.3,0H-1.25M1.25,0H7.3M-1.25,-1.25H1.25V1.25H-1.25Z","M-7.3,0H-0.9M0.9,0H7.3M0,-1.6L1.55,1.1H-1.55Z","M-7.3,0H-0.9M0.9,0H7.3M0,-1.6L1.55,1.1H-1.55Z","M-7.3,0H-1.4M1.4,0H7.3M1.4,0A1.4,1.4,0,1,1,-1.4,0A1.4,1.4,0,1,1,1.4,0Z","M-7.3,0H-0.9M0.9,0H7.3M0,1.6L1.55,-1.1H-1.55Z"]},
               "legend": {"title": null, "orient": "none", "legendX": 313, "legendY": -15, "symbolSize": 36, "labelFontSize": 20, "labelOffset": 22, "rowPadding": 2.3, "encode": {"symbols": {"stroke": {"value": "#111"}, "strokeWidth": {"value": 1.8}}}}},
             "fill": {"field": "series", "type": "nominal", "scale": {"domain": ["SAL","GRg3","LPS","LPS+GRg3-10","LPS+GRg3-20","LPS+GRg3-50","LPS+IBU"], "range": ["#111","#111","white","#111","white","white","#111"]},
               "legend": {"title": null, "orient": "none", "legendX": 313, "legendY": -15, "symbolSize": 36, "labelFontSize": 20, "labelOffset": 22, "rowPadding": 2.3, "encode": {"symbols": {"stroke": {"value": "#111"}, "strokeWidth": {"value": 1.8}}}}}
           }}
        ]
      }
    ]
  }
]
}
